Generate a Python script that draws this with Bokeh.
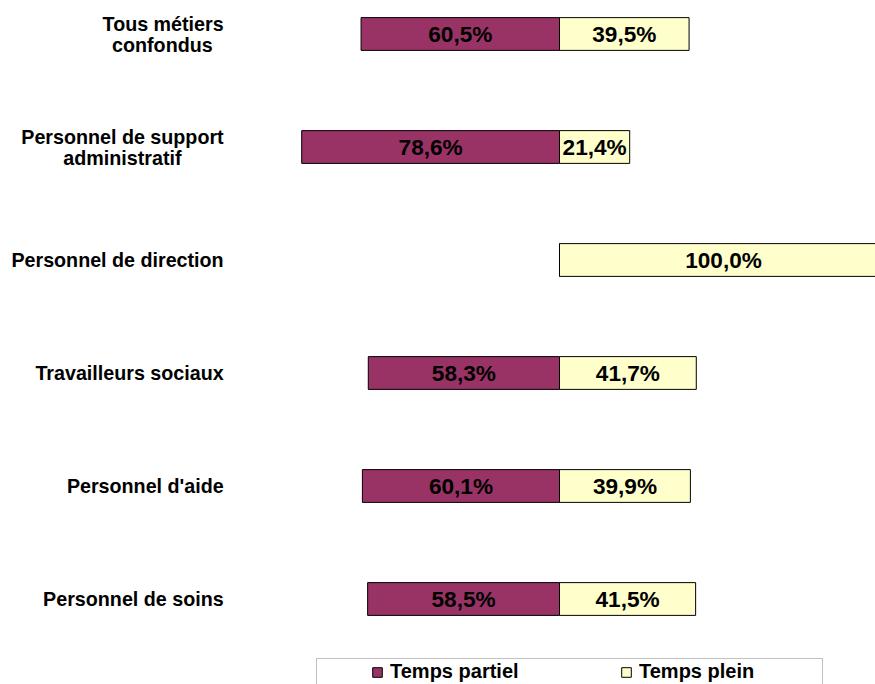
from bokeh.plotting import figure
from bokeh.models import ColumnDataSource, Legend, LegendItem, BoxAnnotation
from bokeh.core.properties import value
from bokeh.embed import file_html
from bokeh.resources import INLINE

# ---- data ----
categories = [
    "Tous métiers\nconfondus",
    "Personnel de support\nadministratif",
    "Personnel de direction",
    "Travailleurs sociaux",
    "Personnel d'aide",
    "Personnel de soins",
]
temps_partiel = [60.5, 78.6, 0.0, 58.3, 60.1, 58.5]
temps_plein = [39.5, 21.4, 100.0, 41.7, 39.9, 41.5]
series_names = ["Temps partiel", "Temps plein"]

# ---- styling ----
COL_PARTIEL = "#993366"
COL_PLEIN = "#FFFFCC"
FONT = "Liberation Sans"
W, H = 875, 684
X_RANGE = (-170.43, 96.34)
Y_RANGE = (-0.7566, 5.2965)
LABEL_X = -102.4
BAR_H = 0.29
CAT_FS = 19.7
VAL_FS = 22.6
LEG_FS = 20
LINE_PX = 21

# Arial/Liberation Sans Bold advance widths (1/1000 em), for centering wrapped lines
BOLD_W = {" ": 278, "T": 611, "P": 667, "o": 611, "u": 611, "s": 556, "m": 889,
          "é": 556, "e": 556, "t": 333, "i": 278, "r": 389, "c": 556, "n": 611,
          "f": 333, "d": 611, "p": 611, "a": 556, "l": 278, "v": 556, "x": 556,
          "'": 238}


def text_w(s, fs):
    return sum(BOLD_W.get(ch, 556) for ch in s) * fs / 1000.0


def fmt(v):
    return ("%.1f" % v).replace(".", ",") + "%"


n = len(categories)
ypos = [n - 1 - i for i in range(n)]

src = ColumnDataSource(dict(
    y=ypos,
    cat=categories,
    partiel=temps_partiel,
    plein=temps_plein,
    neg_partiel=[-v for v in temps_partiel],
    zero=[0.0] * n,
))

p = figure(width=W, height=H, x_range=X_RANGE, y_range=Y_RANGE,
           output_backend="svg", toolbar_location=None,
           x_axis_location=None, y_axis_location=None, min_border=0)
p.grid.visible = False
p.outline_line_color = None

r1 = p.hbar(y="y", left="neg_partiel", right="zero", height=BAR_H, source=src,
            fill_color=COL_PARTIEL, line_color="black", line_width=1)
r2 = p.hbar(y="y", left="zero", right="plein", height=BAR_H, source=src,
            fill_color=COL_PLEIN, line_color="black", line_width=1)

# value labels
lab_p = [(i, v) for i, v in enumerate(temps_partiel) if v > 0]
src_lp = ColumnDataSource(dict(
    x=[-v / 2 for _, v in lab_p],
    y=[ypos[i] for i, _ in lab_p],
    t=[fmt(v) for _, v in lab_p],
))
p.text(x="x", y="y", text="t", source=src_lp, text_align="center",
       text_baseline="middle", text_font=value(FONT), text_font_style="bold",
       text_font_size="%.1fpx" % VAL_FS, text_color="black")

src_lq = ColumnDataSource(dict(
    x=[v / 2 for v in temps_plein],
    y=ypos,
    t=[fmt(v) for v in temps_plein],
))
p.text(x="x", y="y", text="t", source=src_lq, text_align="center",
       text_baseline="middle", text_font=value(FONT), text_font_style="bold",
       text_font_size="%.1fpx" % VAL_FS, text_color="black")

# category labels (each line centred under the widest one, block right-aligned)
cx, cy, ct, cxo, cyo = [], [], [], [], []
for cat, yv in zip(categories, ypos):
    lines = cat.split("\n")
    widths = [text_w(s, CAT_FS) for s in lines]
    mw = max(widths)
    nl = len(lines)
    for j, (s, w) in enumerate(zip(lines, widths)):
        cx.append(LABEL_X)
        cy.append(yv)
        ct.append(s)
        cxo.append(-(mw - w) / 2.0)
        cyo.append((j - (nl - 1) / 2.0) * LINE_PX)
src_c = ColumnDataSource(dict(x=cx, y=cy, t=ct, xo=cxo, yo=cyo))
p.text(x="x", y="y", text="t", x_offset="xo", y_offset="yo", source=src_c,
       text_align="right", text_baseline="middle", text_font=value(FONT),
       text_font_style="bold", text_font_size="%.1fpx" % CAT_FS,
       text_color="black")

# legend frame (open at the bottom edge, as in the reference)
box = BoxAnnotation(left=316, right=822, top=26, bottom=-20,
                    left_units="screen", right_units="screen",
                    top_units="screen", bottom_units="screen",
                    fill_color="white", fill_alpha=1.0,
                    line_color="#333333", line_width=1)
p.add_layout(box)

legend = Legend(
    items=[LegendItem(label=series_names[0], renderers=[r1]),
           LegendItem(label=series_names[1], renderers=[r2])],
    orientation="horizontal", location=(371, 1),
    glyph_width=12, glyph_height=12, label_standoff=7,
    label_width=130, label_height=16, spacing=100, padding=8, margin=0,
    border_line_color=None, background_fill_alpha=0,
    label_text_font=FONT, label_text_font_style="bold",
    label_text_font_size="%dpx" % LEG_FS, label_text_color="black",
)
p.add_layout(legend, "center")

open("out.html", "w").write(file_html(p, INLINE))
